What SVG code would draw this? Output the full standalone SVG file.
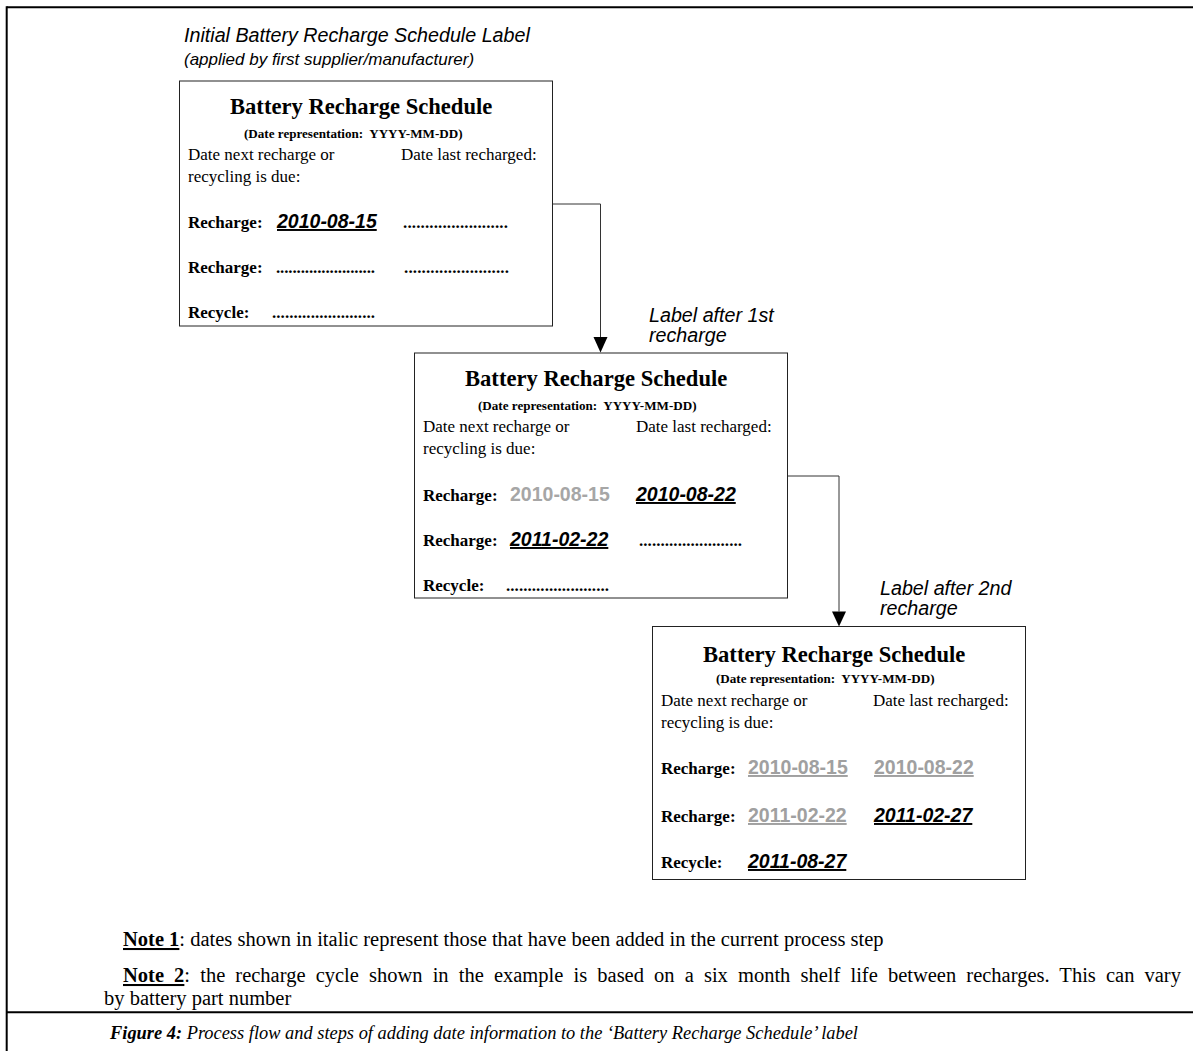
<svg xmlns="http://www.w3.org/2000/svg" width="1193" height="1051" viewBox="0 0 1193 1051">
<style>
.box{fill:#fff;stroke:#222;stroke-width:1}
.frame{stroke:#000;stroke-width:2;fill:none}
.conn{stroke:#333;stroke-width:1;fill:none}
.ttl{font-family:"Liberation Serif",serif;font-weight:bold;font-size:22.6px;fill:#000}
.rep{font-family:"Liberation Serif",serif;font-weight:bold;font-size:13.1px;fill:#000}
.txt{font-family:"Liberation Serif",serif;font-size:17px;fill:#000}
.lbl{font-family:"Liberation Serif",serif;font-weight:bold;font-size:17px;fill:#000}
.dots{font-family:"Liberation Serif",serif;font-weight:bold;font-size:17px;fill:#000}
.new{font-family:"Liberation Sans",Arial,sans-serif;font-weight:bold;font-style:italic;font-size:19.5px;fill:#000;text-decoration:underline}
.old{font-family:"Liberation Sans",Arial,sans-serif;font-weight:bold;font-size:19.5px;fill:#a6a6a6}
.oldu{font-family:"Liberation Sans",Arial,sans-serif;font-weight:bold;font-size:19.5px;fill:#a0a0a0;text-decoration:underline}
.cap{font-family:"Liberation Sans",Arial,sans-serif;font-style:italic;font-size:19.7px;fill:#000}
.sub{font-family:"Liberation Sans",Arial,sans-serif;font-style:italic;font-size:17px;fill:#000}
.note{font-family:"Liberation Serif",serif;font-size:20.5px;fill:#000}
.fig{font-family:"Liberation Serif",serif;font-style:italic;font-size:18.4px;fill:#000}
</style>

<g id="frame">
<line class="frame" x1="6.7" y1="7.3" x2="1193" y2="7.3"/>
<line class="frame" x1="6.7" y1="6.3" x2="6.7" y2="1051"/>
<line class="frame" x1="6.7" y1="1012.3" x2="1193" y2="1012.3"/>
</g>

<g id="captions">
<text class="cap" x="184" y="42">Initial Battery Recharge Schedule Label</text>
<text class="sub" x="184" y="65">(applied by first supplier/manufacturer)</text>
<text class="cap" x="649" y="322">Label after 1st</text>
<text class="cap" x="649" y="342">recharge</text>
<text class="cap" x="880" y="595">Label after 2nd</text>
<text class="cap" x="880" y="615">recharge</text>
</g>

<g id="connectors">
<polyline class="conn" points="552,204 600.5,204 600.5,337"/>
<polygon points="593.5,337 607.5,337 600.5,352.5" fill="#000"/>
<polyline class="conn" points="787,476 839,476 839,611.5"/>
<polygon points="832,611.5 846,611.5 839,626.5" fill="#000"/>
</g>

<g id="label1">
<rect class="box" x="179.5" y="81" width="373" height="245"/>
<text class="ttl" x="230" y="114">Battery Recharge Schedule</text>
<text class="rep" x="244" y="138">(Date representation:&#160; YYYY-MM-DD)</text>
<text class="txt" x="188" y="160">Date next recharge or</text>
<text class="txt" x="401" y="160">Date last recharged:</text>
<text class="txt" x="188" y="182">recycling is due:</text>
<text class="lbl" x="188" y="228">Recharge:</text>
<text class="new" x="277" y="228">2010-08-15</text>
<text class="dots" x="403" y="228" textLength="105" lengthAdjust="spacing">........................</text>
<text class="lbl" x="188" y="273">Recharge:</text>
<text class="dots" x="276" y="273" textLength="99" lengthAdjust="spacing">........................</text>
<text class="dots" x="404" y="273" textLength="105" lengthAdjust="spacing">........................</text>
<text class="lbl" x="188" y="318">Recycle:</text>
<text class="dots" x="272" y="318" textLength="103" lengthAdjust="spacing">........................</text>
</g>

<g id="label2">
<rect class="box" x="414.5" y="353" width="373" height="245"/>
<text class="ttl" x="465" y="386">Battery Recharge Schedule</text>
<text class="rep" x="478" y="410">(Date representation:&#160; YYYY-MM-DD)</text>
<text class="txt" x="423" y="432">Date next recharge or</text>
<text class="txt" x="636" y="432">Date last recharged:</text>
<text class="txt" x="423" y="454">recycling is due:</text>
<text class="lbl" x="423" y="501">Recharge:</text>
<text class="old" x="510" y="501">2010-08-15</text>
<text class="new" x="636" y="501">2010-08-22</text>
<text class="lbl" x="423" y="546">Recharge:</text>
<text class="new" x="510" y="546">2011-02-22</text>
<text class="dots" x="639" y="546" textLength="103" lengthAdjust="spacing">........................</text>
<text class="lbl" x="423" y="591">Recycle:</text>
<text class="dots" x="506" y="591" textLength="103" lengthAdjust="spacing">........................</text>
</g>

<g id="label3">
<rect class="box" x="652.5" y="626.5" width="373" height="253"/>
<text class="ttl" x="703" y="662">Battery Recharge Schedule</text>
<text class="rep" x="716" y="683">(Date representation:&#160; YYYY-MM-DD)</text>
<text class="txt" x="661" y="706">Date next recharge or</text>
<text class="txt" x="873" y="706">Date last recharged:</text>
<text class="txt" x="661" y="728">recycling is due:</text>
<text class="lbl" x="661" y="774">Recharge:</text>
<text class="oldu" x="748" y="774">2010-08-15</text>
<text class="oldu" x="874" y="774">2010-08-22</text>
<text class="lbl" x="661" y="822">Recharge:</text>
<text class="oldu" x="748" y="822">2011-02-22</text>
<text class="new" x="874" y="822">2011-02-27</text>
<text class="lbl" x="661" y="868">Recycle:</text>
<text class="new" x="748" y="868">2011-08-27</text>
</g>

<g id="notes">
<text class="note" x="123" y="946"><tspan font-weight="bold" text-decoration="underline">Note 1</tspan>: dates shown in italic represent those that have been added in the current process step</text>
<text class="note" x="123" y="982" word-spacing="5"><tspan font-weight="bold" text-decoration="underline">Note 2</tspan>: the recharge cycle shown in the example is based on a six month shelf life between recharges. This can vary</text>
<text class="note" x="104" y="1005">by battery part number</text>
<text class="fig" x="110" y="1039"><tspan font-weight="bold">Figure 4:</tspan> Process flow and steps of adding date information to the ‘Battery Recharge Schedule’ label</text>
</g>
</svg>
